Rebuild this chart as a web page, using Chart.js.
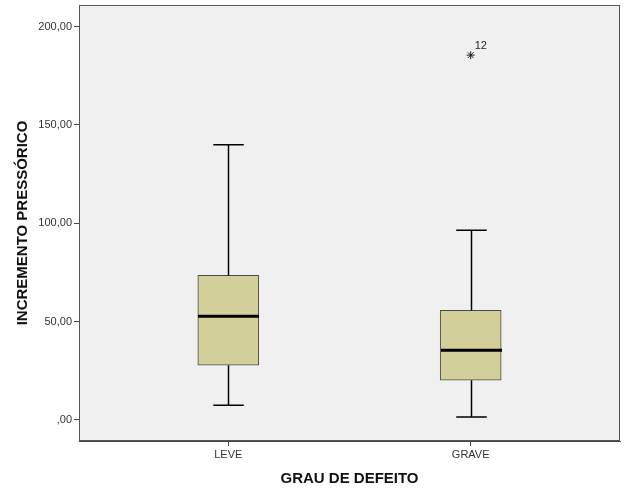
<!DOCTYPE html>
<html>
<head>
<meta charset="utf-8">
<script src="https://cdn.jsdelivr.net/npm/chart.js@4/dist/chart.umd.min.js"></script>
<style>
  html, body { margin: 0; padding: 0; background: #fff; }
  #wrap { width: 626px; height: 501px; }
</style>
</head>
<body>
<div id="wrap"><canvas id="myChart"></canvas></div>
<script>
// box plot summary values
const categories = ['LEVE', 'GRAVE'];
const mins    = [7.5, 1.5];
const q1s     = [27.8, 20.2];
const medians = [52.7, 35.5];
const q3s     = [73.5, 55.7];
const maxes   = [140, 96.5];
const outliers = [{ x: 1, y: 185.5, label: '12' }];
const yTicks = [0, 50, 100, 150, 200];

const fmt = v => v === 0 ? ',00' : v.toFixed(2).replace('.', ',');

const boxPlugin = {
    id: 'boxParts',
    beforeDraw(chart) {
        const { ctx, chartArea: a } = chart;
        ctx.save();
        ctx.fillStyle = '#f0f0f0';
        ctx.fillRect(a.left, a.top, a.right - a.left, a.bottom - a.top);
        ctx.restore();
    },
    afterDatasetsDraw(chart) {
        const { ctx, chartArea: a } = chart;
        const xs = chart.scales.x, ys = chart.scales.y;
        const bars = chart.getDatasetMeta(0).data;
        ctx.save();
        ctx.strokeStyle = '#000';
        categories.forEach((c, i) => {
            const x = Math.round(xs.getPixelForValue(i)) + 0.5;
            const w = bars[i].width;
            const capW = w / 2;
            const yMin = ys.getPixelForValue(mins[i]);
            const yMax = ys.getPixelForValue(maxes[i]);
            const yQ1 = ys.getPixelForValue(q1s[i]);
            const yQ3 = ys.getPixelForValue(q3s[i]);
            const yMed = ys.getPixelForValue(medians[i]);
            ctx.lineWidth = 1.5;
            ctx.beginPath();
            ctx.moveTo(x, yQ3); ctx.lineTo(x, yMax);
            ctx.moveTo(x - capW / 2, yMax); ctx.lineTo(x + capW / 2, yMax);
            ctx.moveTo(x, yQ1); ctx.lineTo(x, yMin);
            ctx.moveTo(x - capW / 2, yMin); ctx.lineTo(x + capW / 2, yMin);
            ctx.stroke();
            ctx.lineWidth = 3;
            ctx.beginPath();
            ctx.moveTo(x - w / 2, yMed); ctx.lineTo(x + w / 2, yMed);
            ctx.stroke();
        });
        ctx.fillStyle = '#222';
        ctx.font = '11px "Liberation Sans", Arial, sans-serif';
        outliers.forEach(o => {
            ctx.fillText(o.label, xs.getPixelForValue(o.x) + 4, ys.getPixelForValue(o.y) - 6);
        });
        // frame around plot area
        ctx.lineWidth = 1;
        ctx.strokeStyle = '#555';
        ctx.strokeRect(a.left + 0.5, a.top + 0.5, a.right - a.left - 1, a.bottom - a.top - 1);
        ctx.restore();
    }
};

const ctx = document.getElementById('myChart').getContext('2d');
const myChart = new Chart(ctx, {
    data: {
        datasets: [{
            type: 'bar',
            data: categories.map((c, i) => ({ x: i, y: [q1s[i], q3s[i]] })),
            backgroundColor: '#d3cf9b',
            borderColor: '#4a4a40',
            borderWidth: 1,
            borderSkipped: false,
            barThickness: 61,
            grouped: false
        }, {
            type: 'scatter',
            data: outliers.map(o => ({ x: o.x, y: o.y })),
            pointStyle: 'star',
            radius: 4,
            borderColor: '#222',
            borderWidth: 1
        }]
    },
    options: {
        responsive: true,
        maintainAspectRatio: false,
        animation: false,
        layout: { padding: { left: 0, right: 6, top: 4, bottom: 0 } },
        plugins: { legend: { display: false }, tooltip: { enabled: false } },
        scales: {
            x: {
                type: 'linear',
                offset: false,
                min: -0.616,
                max: 1.616,
                afterBuildTicks: axis => { axis.ticks = categories.map((c, i) => ({ value: i })); },
                afterFit: axis => { axis.height = 60; },
                ticks: {
                    callback: v => categories[v],
                    color: '#333',
                    padding: 2,
                    font: { family: '"Liberation Sans", Arial, sans-serif', size: 11 }
                },
                grid: { drawOnChartArea: false, offset: false, tickLength: 5, color: '#444' },
                border: { color: '#444' },
                title: {
                    display: true,
                    text: 'GRAU DE DEFEITO',
                    color: '#111',
                    padding: { top: 4, bottom: 13 },
                    font: { family: '"Liberation Sans", Arial, sans-serif', size: 15, weight: 'bold' }
                }
            },
            y: {
                min: -10.7,
                max: 211,
                afterBuildTicks: axis => { axis.ticks = yTicks.map(v => ({ value: v })); },
                afterFit: axis => { axis.width = 79; axis.paddingTop = 0; axis.paddingBottom = 0; },
                ticks: {
                    callback: v => fmt(v),
                    color: '#333',
                    padding: 2,
                    font: { family: '"Liberation Sans", Arial, sans-serif', size: 11 }
                },
                grid: { drawOnChartArea: false, tickLength: 5, color: '#444' },
                border: { color: '#444' },
                title: {
                    display: true,
                    text: 'INCREMENTO PRESSÓRICO',
                    color: '#111',
                    padding: { top: 14, bottom: 0 },
                    font: { family: '"Liberation Sans", Arial, sans-serif', size: 15, weight: 'bold' }
                }
            }
        }
    },
    plugins: [boxPlugin]
});
</script>
</body>
</html>
